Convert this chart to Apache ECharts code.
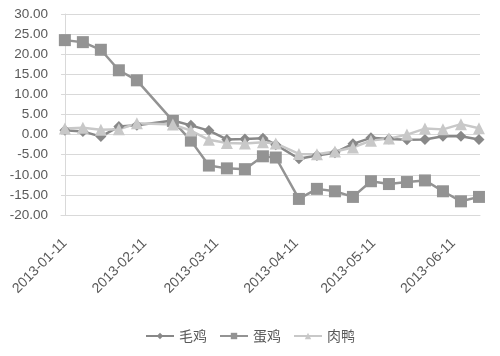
<!DOCTYPE html>
<html>
<head>
<meta charset="utf-8">
<script src="https://cdn.jsdelivr.net/npm/echarts@6/dist/echarts.min.js"></script>
<style>html,body{margin:0;padding:0;background:#fff;}#c{width:500px;height:356px;}</style>
</head>
<body>
<div id="c"></div>
<script>
var dates = ['2013-01-11','2013-01-18','2013-01-25','2013-02-01','2013-02-08','2013-02-22','2013-03-01','2013-03-08','2013-03-15','2013-03-22','2013-03-29','2013-04-03','2013-04-12','2013-04-19','2013-04-26','2013-05-03','2013-05-10','2013-05-17','2013-05-24','2013-05-31','2013-06-07','2013-06-14','2013-06-21'];
var maoji = [1.1, 0.8, -0.5, 2.0, 2.3, 3.5, 2.3, 1.0, -1.2, -1.1, -0.9, -2.5, -6.0, -5.2, -4.5, -2.3, -0.8, -1.1, -1.3, -1.2, -0.4, -0.4, -1.2];
var danji = [23.5, 23.0, 21.1, 16.0, 13.5, 3.4, -1.5, -7.7, -8.4, -8.6, -5.4, -5.7, -16.0, -13.5, -14.1, -15.5, -11.6, -12.3, -11.8, -11.4, -14.1, -16.6, -15.5];
var rouya = [1.5, 1.7, 1.2, 1.3, 2.8, 2.5, 1.0, -1.3, -2.1, -2.2, -1.9, -2.2, -4.8, -4.9, -4.2, -3.2, -1.5, -1.0, 0.0, 1.5, 1.3, 2.6, 1.6];
var tickLabels = ['2013-01-11','2013-02-11','2013-03-11','2013-04-11','2013-05-11','2013-06-11'];
var seriesNames = ['毛鸡','蛋鸡','肉鸭'];

var DAY = 86400000;
function dayNum(s){var p=s.split('-');return Math.round(Date.UTC(+p[0],+p[1]-1,+p[2])/DAY);}
var base = dayNum(dates[0]);
function off(s){return dayNum(s)-base;}
var tickOff = tickLabels.map(off);
function pairs(arr){return dates.map(function(d,i){return [off(d),arr[i]];});}

var chart = echarts.init(document.getElementById('c'));
var txt = '#595959';
chart.setOption({
  animation:false,
  backgroundColor:'#fff',
  grid:{left:61,right:20,top:14,bottom:141},
  xAxis:{
    type:'value',
    min: -1.5,
    max: off(dates[dates.length-1]) + 0.4,
    splitLine:{show:false},
    axisLine:{show:true,onZero:false,lineStyle:{color:'#d9d9d9',width:1}},
    axisTick:{show:false},
    axisLabel:{
      customValues: tickOff,
      rotate:45,
      margin:26,
      color:txt,
      fontSize:14,
      fontFamily:'Liberation Sans',
      formatter:function(v){var i=tickOff.indexOf(Math.round(v));return i>=0?tickLabels[i]:'';}
    }
  },
  yAxis:{
    type:'value',min:-20,max:30,interval:5,
    axisLine:{show:true,lineStyle:{color:'#d9d9d9'}},
    axisTick:{show:false},
    splitLine:{lineStyle:{color:'#d9d9d9',width:1}},
    axisLabel:{color:txt,fontSize:13.5,fontFamily:'Liberation Sans',margin:13,formatter:function(v){return v.toFixed(2);}}
  },
  legend:{
    bottom:8,left:'center',itemWidth:28,itemHeight:8,itemGap:12,
    textStyle:{color:txt,fontSize:14,fontFamily:'Noto Sans CJK SC'},
    data:seriesNames
  },
  series:[
    {name:seriesNames[0],type:'line',data:pairs(maoji),symbol:'diamond',symbolSize:11,
     itemStyle:{color:'#888888'},lineStyle:{color:'#888888',width:2.5}},
    {name:seriesNames[1],type:'line',data:pairs(danji),symbol:'rect',symbolSize:12,
     itemStyle:{color:'#939393'},lineStyle:{color:'#939393',width:2.5}},
    {name:seriesNames[2],type:'line',data:pairs(rouya),symbol:'triangle',symbolSize:12,
     itemStyle:{color:'#c8c8c8'},lineStyle:{color:'#c8c8c8',width:2.5}}
  ]
});
</script>
</body>
</html>
